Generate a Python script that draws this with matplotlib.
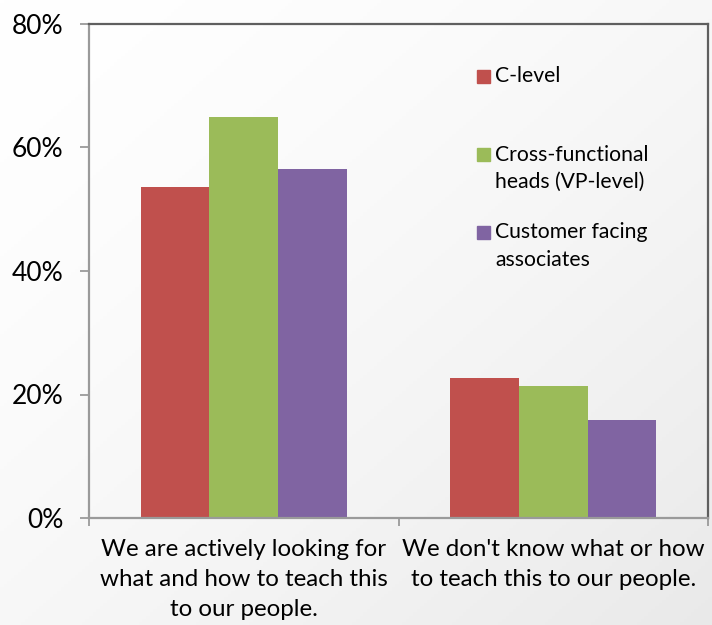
import numpy as np
import matplotlib
matplotlib.use("Agg")
import matplotlib.pyplot as plt
from matplotlib.patches import Rectangle

plt.rcParams['font.family'] = ['Lato', 'DejaVu Sans']

# survey answers, share of respondents per group
categories = ["We are actively looking for\nwhat and how to teach this\nto our people.",
              "We don't know what or how\nto teach this to our people."]
series = ["C-level", "Cross-functional\nheads (VP-level)", "Customer facing\nassociates"]
c_level = [53.6, 22.7]
vp_level = [64.9, 21.4]
associates = [56.5, 15.9]
colours = ["#C0504D", "#9BBB59", "#8064A2"]
yticks = [0, 20, 40, 60, 80]

fig = plt.figure(figsize=(7.12, 6.25), dpi=100)

# soft diagonal grey wash behind everything (white top-left, light grey bottom-right)
bg = fig.add_axes([0, 0, 1, 1], zorder=-10)
gx, gy = np.meshgrid(np.linspace(0, 1, 200), np.linspace(0, 1, 200))
shade = 1.0 - 0.085 * ((gx + gy) / 2) ** 1.5
img = np.dstack([shade, shade, shade])
bg.imshow(img, aspect='auto', extent=[0, 1, 0, 1], origin='upper')
bg.axis('off')

ax = fig.add_axes([0.125, 0.1712, 0.8694, 0.7904])
ax.patch.set_alpha(0)

x = np.arange(len(categories))
w = 0.222
for i, (vals, col) in enumerate(zip([c_level, vp_level, associates], colours)):
    ax.bar(x + (i - 1) * w, vals, width=w, color=col, edgecolor='none', zorder=2)

ax.set_xlim(-0.5, 1.5)
ax.set_ylim(0, 80)
ax.set_yticks(yticks)
ax.set_yticklabels([f"{v}%" for v in yticks], fontsize=19)
ax.tick_params(axis='y', length=6.5, width=1.3, color='#9a9a9a', pad=12)

# boundary ticks on the category axis, labels sit on minor ticks
ax.set_xticks([-0.5, 0.5, 1.5])
ax.set_xticklabels([])
ax.tick_params(axis='x', which='major', length=5.5, width=1.3, color='#9a9a9a')
ax.set_xticks(x, minor=True)
ax.set_xticklabels(categories, minor=True, fontsize=17.4, linespacing=1.52)
ax.tick_params(axis='x', which='minor', length=0, pad=15)

for side in ['left', 'bottom']:
    ax.spines[side].set_color('#9a9a9a')
    ax.spines[side].set_linewidth(1.6)
for side in ['top', 'right']:
    ax.spines[side].set_color('#5f5f5f')
    ax.spines[side].set_linewidth(1.6)

# legend drawn by hand so spacing follows the Excel layout
def px2ax(px, py):
    return (px - 89) / 619, (518 - py) / 494

legend_rows = [(76, 76), (154, 168.5), (232, 246)]
for (sq_y, txt_y), lab, col in zip(legend_rows, series, colours):
    sx, sy = px2ax(477, sq_y + 7)
    ax.add_patch(Rectangle((sx, sy), 13 / 619, 13 / 494, transform=ax.transAxes,
                           color=col, clip_on=False))
    tx, ty = px2ax(495, txt_y)
    ax.text(tx, ty, lab, transform=ax.transAxes, fontsize=15.2, va='center',
            ha='left', linespacing=1.45)

fig.savefig("out.png", dpi=100)
